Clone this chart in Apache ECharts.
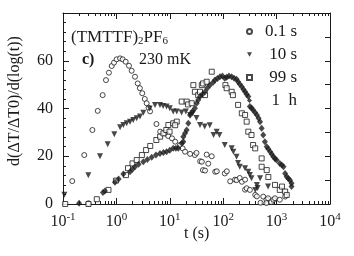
<!DOCTYPE html>
<html>
<head>
<meta charset="utf-8">
<script src="https://cdn.jsdelivr.net/npm/echarts@6/dist/echarts.min.js"></script>
<style>html,body{margin:0;padding:0;background:#fff}#c{width:354px;height:256px}</style>
</head>
<body>
<div id="c"></div>
<script>
// ---- data (t in s, value) ----
const seriesNames = ['0.1 s', '10 s', '99 s', '1  h'];
const xTicks = [0.1, 1, 10, 100, 1000, 10000];
const yTicks = [0, 20, 40, 60];

const c01 = [[0.30,0.3],[0.149,9.6],[0.25,20.5],[0.355,31],[0.447,39],[0.553,45.6],[0.638,51.9],[0.724,55],[0.817,57.8],[0.902,59.2],[1.01,60.6],[1.17,61],[1.31,60.6],[1.49,59.6],[1.72,57.9],[1.93,55.8],[2.23,53.3],[2.51,50.5],[2.75,48.5],[3.05,46.4],[3.4,44],[3.69,42.2],[4.0,40.3],[4.27,38.8],[5.62,33.5],[6.61,30.3],[8.13,29.6],[9.33,28.5],[11,27.5],[12.6,26.1],[15.5,24.7],[17.4,23.3],[19.3,21.9],[24,21],[29.5,20.5],[31.6,21.4],[37,17.9],[39.8,17.7],[41.7,14.2],[45.7,14],[49,20.7],[52.5,16.9],[61,20],[70.8,13.5],[75.9,13.7],[107,12.8],[117,13.7],[135,9.5],[166,10.2],[178,10],[204,10.9],[224,9.3],[257,10.2],[257,6],[275,6.6],[316,5.9],[398,3.8],[427,3.2],[501,0.5],[562,3.1],[646,1.8],[646,0.4],[692,2.4],[794,0.8],[871,1.8],[933,2.4],[1148,1.8],[1445,3.1]];

const t10 = [[0.106,3.9],[0.298,12],[0.493,20],[0.687,25],[0.914,29.2],[1.17,32.1],[1.35,33.1],[1.56,33.8],[1.8,34.5],[2.07,35.2],[2.4,35.9],[2.77,36.6],[3.19,38.2],[4.2,40],[5.28,41.5],[6.55,41.5],[7.5,41],[8.7,40.8],[10,40.1],[11.6,38.7],[13.5,38.7],[16.6,38.3],[20,38.7],[24,37.3],[27,38],[31.6,36],[36.8,33.1],[45,32.5],[56,33],[66,28.9],[75.5,30.3],[85,28.9],[107,24.7],[144,23.3],[155,21.9],[178,19.8],[190,17.2],[204,15.6],[257,15],[295,13.5],[316,12.1],[339,10.8],[398,5.9],[427,8],[440,6.7],[490,10.8],[692,7.3]];

const s99 = [[0.11,0],[0.3,0],[0.43,2],[0.71,5.9],[0.98,9.8],[1.51,12.1],[1.65,15],[2.0,17],[2.4,18.4],[3.0,20.5],[3.6,22.6],[4.3,24.3],[5.6,26.8],[6.6,28.2],[7.6,29.6],[8.6,31],[9.4,33.1],[11.6,33.8],[13.5,34.5],[12.6,33],[9.9,30.3],[16.7,42.9],[20.7,42.9],[22,41.7],[25.7,42.2],[27.6,49.8],[29.5,47],[34,45.6],[36.8,47],[39.8,49.8],[42,50.5],[45.7,45.6],[49,51.2],[61,55.4],[110,49.8],[116,48.5],[144,47],[152,45.6],[190,41.5],[223,38],[257,37.3],[275,34.5],[295,30.3],[339,28.9],[363,24.7],[398,23.3],[525,19.1],[525,15.6],[653,14.2],[700,11.3],[933,8],[1148,5.9],[1259,7.3],[1445,5.2],[1549,3.8]];

const d1h = [[0.2,0.3],[0.56,4.8],[0.61,5.4],[0.94,9.1],[1.1,10.5],[1.35,12.6],[1.8,13.5],[2.0,14.6],[2.23,15.6],[2.6,16.6],[3.19,17.7],[3.8,18.6],[4.58,19.6],[5.5,20.5],[6.55,21.2],[7.6,21.6],[8.7,21.9],[10,22.5],[11.6,23.3],[13,23.3],[14.4,23.3],[16.7,25.4],[17.9,26.1],[17.9,28.2],[19.3,29.6],[20.7,31],[22.2,33.8],[23.9,37.3],[26.5,38.7],[29.5,40.1],[31.9,42.2],[34,43.6],[36.8,45],[41,46],[45.7,47],[50.5,48.6],[56.6,49.8],[65,51],[70.2,51.9],[78,52.6],[87,53.3],[97,53.6],[107,52.7],[116,53.1],[128,53.6],[144,53.3],[160,52.7],[178,52.3],[190,51.2],[205,50.2],[223,49.1],[240,48],[257,47],[275,46],[295,45],[316,40.8],[340,40.2],[363,39.4],[395,38.3],[427,37.3],[460,35.9],[490,34.5],[525,31.7],[562,28.9],[603,26.1],[653,24],[700,23],[759,21.9],[815,20.8],[871,19.8],[935,19],[1000,18.4],[1148,17],[1250,16.3],[1349,15.6],[1445,12.8],[1549,11.4],[1660,10.7],[1778,10],[1905,8.7],[1905,7.3]];

const FONT = '"Liberation Serif", "DejaVu Serif", serif';
const INK = '#1a1a1a';

const chart = echarts.init(document.getElementById('c'), null, {renderer: 'canvas'});

const baseAxis = {
  axisLine: {show: true, onZero: false, lineStyle: {color: INK, width: 1}},
  splitLine: {show: false}
};

const legendIcons = ['circle', 'path://M0,0L10,0L5,9Z', 'rect', 'diamond'];

const option = {
  animation: false,
  backgroundColor: '#fff',
  grid: {left: 63, right: 24, top: 13, bottom: 52, containLabel: false},
  legend: {
    orient: 'vertical', left: 241, top: 18, itemWidth: 5, itemHeight: 5, itemGap: 6,
    data: seriesNames.map((n, i) => ({name: n, icon: legendIcons[i]})),
    formatter: n => '{a|' + n + '}',
    textStyle: {color: INK, fontFamily: FONT, fontSize: 17,
      rich: {a: {width: 40, align: 'right', fontFamily: FONT, fontSize: 17, color: INK, lineHeight: 16}}}
  },
  xAxis: [{
    ...baseAxis, type: 'log', logBase: 10, min: xTicks[0], max: xTicks[xTicks.length - 1], splitNumber: 5,
    axisTick: {show: true, inside: true, length: 6, lineStyle: {color: INK}},
    axisLabel: {
      margin: 8, color: INK, fontFamily: FONT, fontSize: 16,
      formatter: v => '10{s|' + Math.round(Math.log10(v)) + '}',
      rich: {s: {fontSize: 11, fontFamily: FONT, color: INK, padding: [0, 0, 8, 0]}}
    }
  }, {
    ...baseAxis, type: 'log', logBase: 10, position: 'top', min: xTicks[0], max: xTicks[xTicks.length - 1], splitNumber: 5,
    axisTick: {show: true, inside: true, length: 6, lineStyle: {color: INK}},
    axisLabel: {show: false}
  }],
  yAxis: [{
    ...baseAxis, type: 'value', min: 0, max: 80, interval: 20,
    axisTick: {show: true, inside: true, length: 6, lineStyle: {color: INK}},
    minorTick: {show: true, splitNumber: 5, length: 3, lineStyle: {color: INK}},
    axisLabel: {margin: 10, color: INK, fontFamily: FONT, fontSize: 16,
      formatter: v => (yTicks.indexOf(v) >= 0 ? String(v) : '')}
  }, {
    ...baseAxis, type: 'value', position: 'right', min: 0, max: 80, interval: 10,
    axisTick: {show: true, inside: true, length: 5, lineStyle: {color: INK}},
    axisLabel: {show: false}
  }],
  series: [
    {name: seriesNames[0], type: 'scatter', data: c01, symbol: 'circle', symbolSize: 5,
     itemStyle: {color: '#fff', borderColor: INK, borderWidth: 1}},
    {name: seriesNames[1], type: 'scatter', data: t10, symbol: 'triangle', symbolSize: 6, symbolRotate: 180,
     itemStyle: {color: INK}},
    {name: seriesNames[2], type: 'scatter', data: s99, symbol: 'rect', symbolSize: 5,
     itemStyle: {color: '#fff', borderColor: INK, borderWidth: 1}},
    {name: seriesNames[3], type: 'scatter', data: d1h, symbol: 'diamond', symbolSize: [6, 7],
     itemStyle: {color: INK}}
  ]
};
chart.setOption(option);

// minor log ticks and annotations
const yBot = chart.convertToPixel({yAxisIndex: 0}, 0);
const yTop = chart.convertToPixel({yAxisIndex: 0}, 80);
const els = [];
for (let e = 0; e < xTicks.length - 1; e++) {
  for (let k = 2; k <= 9; k++) {
    const v = k * xTicks[e];
    const x = Math.round(chart.convertToPixel({xAxisIndex: 0}, v)) + 0.5;
    els.push({type: 'line', silent: true, shape: {x1: x, y1: yBot, x2: x, y2: yBot - 3}, style: {stroke: INK, lineWidth: 1}});
    els.push({type: 'line', silent: true, shape: {x1: x, y1: yTop, x2: x, y2: yTop + 3}, style: {stroke: INK, lineWidth: 1}});
  }
}
els.push({type: 'text', left: 71, top: 29, style: {text: '(TMTTF){s|2}PF{s|6}', fill: INK, font: '17px ' + FONT,
  rich: {s: {fontSize: 11, fontFamily: FONT, fill: INK, padding: [8, 0, 0, 0]}}}});
els.push({type: 'text', left: 82, top: 52, style: {text: 'c)', fill: INK, font: 'bold 16px ' + FONT}});
els.push({type: 'text', left: 139, top: 52, style: {text: '230 mK', fill: INK, font: '16px ' + FONT}});
els.push({type: 'text', left: 184, top: 226, style: {text: 't (s)', fill: INK, font: '16px ' + FONT}});
els.push({type: 'text', x: 15, y: 101, rotation: Math.PI / 2,
  style: {text: 'd(ΔT/ΔT0)/d(log(t))', fill: INK, font: '16px ' + FONT, align: 'center', verticalAlign: 'middle'}});
chart.setOption({graphic: {elements: els}});
</script>
</body>
</html>
